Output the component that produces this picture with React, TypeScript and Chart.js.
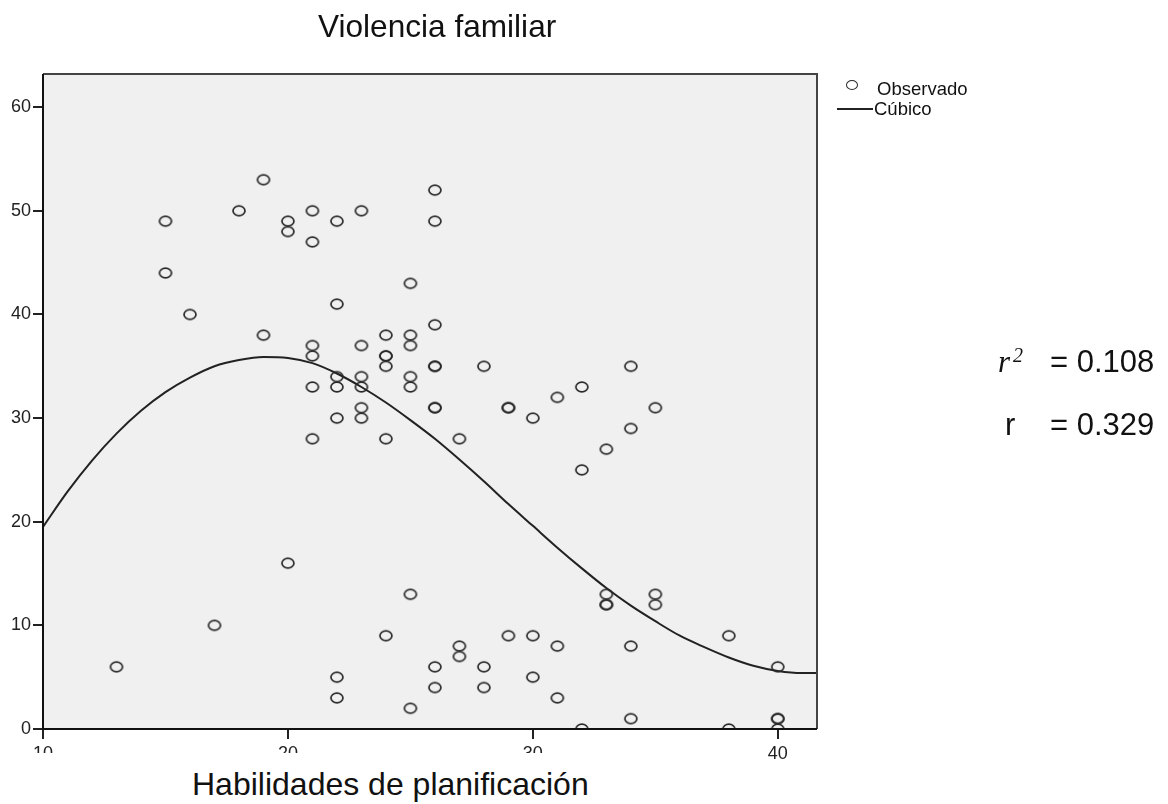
import React, { useEffect, useRef } from "react";
import { Chart, registerables } from "chart.js";

Chart.register(...registerables);

// Observed points (Habilidades de planificación, Violencia familiar)
const obsX = [
  13,
  15, 15,
  16,
  17,
  18,
  19, 19,
  20, 20, 20,
  21, 21, 21, 21, 21, 21,
  22, 22, 22, 22, 22, 22, 22,
  23, 23, 23, 23, 23, 23,
  24, 24, 24, 24, 24, 24,
  25, 25, 25, 25, 25, 25, 25,
  26, 26, 26, 26, 26, 26, 26, 26, 26,
  27, 27, 27,
  28, 28, 28,
  29, 29, 29,
  30, 30, 30,
  31, 31, 31,
  32, 32, 32,
  33, 33, 33, 33,
  34, 34, 34, 34,
  35, 35, 35,
  38, 38,
  40, 40, 40, 40,
];
const obsY = [
  6,
  49, 44,
  40,
  10,
  50,
  53, 38,
  49, 48, 16,
  50, 47, 37, 36, 33, 28,
  49, 41, 34, 33, 30, 5, 3,
  50, 37, 34, 33, 31, 30,
  38, 36, 36, 35, 28, 9,
  43, 38, 37, 34, 33, 13, 2,
  52, 49, 39, 35, 35, 31, 31, 6, 4,
  28, 8, 7,
  35, 6, 4,
  31, 31, 9,
  30, 9, 5,
  32, 8, 3,
  33, 25, 0,
  27, 13, 12, 12,
  35, 29, 8, 1,
  31, 13, 12,
  9, 0,
  6, 1, 1, 0,
];

// Cubic fit curve
const fitX = [10, 11, 12, 13, 14, 15, 16, 17, 18, 19, 20, 21, 22, 23, 24, 25, 26, 27, 28, 29, 30, 31, 32, 33, 34, 35, 36, 37, 38, 39, 40, 41, 41.6];
const fitY = [19.5, 22.9, 25.9, 28.5, 30.7, 32.5, 33.9, 35.0, 35.6, 35.9, 35.8, 35.3, 34.3, 33.0, 31.5, 29.8, 28.0, 26.0, 23.9, 21.7, 19.6, 17.5, 15.5, 13.6, 11.9, 10.4, 9.0, 7.9, 6.9, 6.1, 5.6, 5.4, 5.4];

const titleText = "Violencia familiar";
const xTitleText = "Habilidades de planificación";
const legendLabels = ["Observado", "Cúbico"];
const r2Text = "= 0.108";
const rText = "= 0.329";

const FONT = '"Liberation Sans", Arial, Helvetica, sans-serif';

function makeRing(): HTMLCanvasElement {
  const c = document.createElement("canvas");
  c.width = 16;
  c.height = 14;
  const ctx = c.getContext("2d")!;
  ctx.strokeStyle = "#2a2a2a";
  ctx.lineWidth = 1.7;
  ctx.beginPath();
  ctx.ellipse(8, 7, 6, 4.9, 0, 0, Math.PI * 2);
  ctx.stroke();
  return c;
}

const framePlugin = {
  id: "frame",
  beforeDraw(chart: any) {
    const { ctx, chartArea } = chart;
    const { left, top, right, bottom } = chartArea;
    ctx.save();
    ctx.fillStyle = "#f0f0f0";
    ctx.fillRect(left, top, right - left, bottom - top);
    ctx.restore();
  },
  afterDraw(chart: any) {
    const { ctx, chartArea } = chart;
    const { left, top, right, bottom } = chartArea;
    ctx.save();
    ctx.lineWidth = 2;
    ctx.strokeStyle = "#444";
    ctx.beginPath();
    ctx.moveTo(left, top);
    ctx.lineTo(right, top);
    ctx.lineTo(right, bottom);
    ctx.stroke();
    ctx.strokeStyle = "#111";
    ctx.beginPath();
    ctx.moveTo(left, top);
    ctx.lineTo(left, bottom);
    ctx.lineTo(right, bottom);
    ctx.stroke();
    ctx.restore();
  },
};

export default function App() {
  const ref = useRef<HTMLCanvasElement | null>(null);

  useEffect(() => {
    if (!ref.current) return;
    const ring = makeRing();
    const chart = new Chart(ref.current, {
      type: "scatter",
      data: {
        datasets: [
          {
            label: legendLabels[0],
            data: obsX.map((x, i) => ({ x, y: obsY[i] })),
            pointStyle: ring as any,
            pointRadius: 6,
            pointHoverRadius: 6,
            showLine: false,
          },
          {
            label: legendLabels[1],
            data: fitX.map((x, i) => ({ x, y: fitY[i] })),
            showLine: true,
            borderColor: "#222",
            borderWidth: 2,
            pointRadius: 0,
            cubicInterpolationMode: "monotone",
            fill: false,
          },
        ],
      },
      options: {
        responsive: false,
        animation: false,
        events: [],
        layout: { padding: { left: 0, top: 74, right: 351, bottom: 0 } },
        plugins: {
          legend: { display: false },
          title: { display: false },
          tooltip: { enabled: false },
        },
        scales: {
          x: {
            type: "linear",
            min: 10,
            max: 41.6,
            border: { display: false },
            grid: {
              display: true,
              drawOnChartArea: false,
              drawTicks: true,
              tickLength: 10,
              color: "#222",
              lineWidth: 2,
            },
            ticks: {
              stepSize: 10,
              includeBounds: false,
              padding: 4,
              color: "#222",
              font: { family: FONT, size: 18 },
              maxRotation: 0,
            },
            afterFit(scale: any) {
              scale.height = 75;
            },
          },
          y: {
            type: "linear",
            min: 0,
            max: 63.2,
            border: { display: false },
            grid: {
              display: true,
              drawOnChartArea: false,
              drawTicks: true,
              tickLength: 10,
              color: "#222",
              lineWidth: 2,
            },
            ticks: {
              stepSize: 10,
              includeBounds: false,
              padding: 2,
              color: "#222",
              font: { family: FONT, size: 18 },
            },
            afterFit(scale: any) {
              scale.width = 43;
            },
          },
        },
      },
      plugins: [framePlugin],
    });
    return () => chart.destroy();
  }, []);

  const abs = (left: number, top: number, size: number, extra: any = {}) => ({
    position: "absolute" as const,
    left,
    top,
    fontFamily: FONT,
    fontSize: size,
    lineHeight: `${size}px`,
    whiteSpace: "nowrap" as const,
    color: "#111",
    ...extra,
  });

  return (
    <div style={{ position: "absolute", left: 0, top: 0, width: 1168, height: 804, overflow: "hidden", background: "#fff" }}>
      <canvas ref={ref} width={1168} height={804} style={{ position: "absolute", left: 0, top: 0, width: 1168, height: 804 }} />
      <div style={abs(318, 11, 31.6)}>{titleText}</div>
      <div style={{ position: "absolute", left: 0, top: 753, width: 720, height: 51, background: "#fff" }} />
      <div style={abs(192, 768, 32)}>{xTitleText}</div>
      {/* legend */}
      <div style={{ position: "absolute", left: 846, top: 80, width: 12, height: 10, border: "1.7px solid #2a2a2a", borderRadius: "50%", boxSizing: "border-box" }} />
      <div style={abs(877, 79.5, 18.5)}>{legendLabels[0]}</div>
      <div style={{ position: "absolute", left: 837, top: 108, width: 36, height: 2, background: "#222" }} />
      <div style={abs(874, 99.5, 18.5)}>{legendLabels[1]}</div>
      {/* fit statistics */}
      <div style={{ position: "absolute", left: 998, top: 346, fontFamily: '"Liberation Serif", "DejaVu Serif", serif', fontStyle: "italic", fontSize: 31, lineHeight: "31px", color: "#111", whiteSpace: "nowrap" }}>
        r<sup style={{ fontSize: 20, verticalAlign: "top", position: "relative", top: -6, marginLeft: 3 }}>2</sup>
      </div>
      <div style={abs(1050, 346, 31)}>{r2Text}</div>
      <div style={abs(1005, 409, 31)}>r</div>
      <div style={abs(1050, 409, 31)}>{rText}</div>
    </div>
  );
}
